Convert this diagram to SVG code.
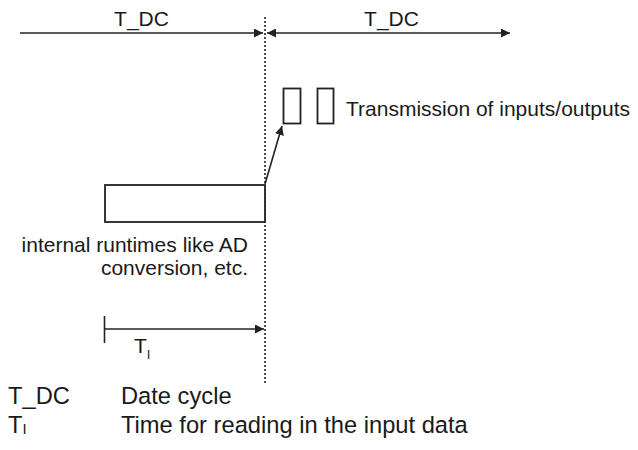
<svg xmlns="http://www.w3.org/2000/svg" width="638" height="450" viewBox="0 0 638 450">
<defs>
<style>
.t{font-family:"Liberation Sans",Arial,sans-serif;font-size:21px;fill:#1a1a1a}
.lg{font-size:23.7px}
.ln{stroke:#222;stroke-width:1.6;fill:none}
.box{stroke:#222;stroke-width:1.8;fill:#fff}
</style>
<marker id="ah" viewBox="0 0 10 10" refX="10" refY="5" markerWidth="9" markerHeight="9" markerUnits="userSpaceOnUse" orient="auto-start-reverse">
<path d="M0,0 L10,5 L0,10 z" fill="#222"/>
</marker>
</defs>
<rect width="638" height="450" fill="#fff"/>
<g id="cycle-line">
<line x1="265" y1="17" x2="265" y2="385" stroke="#222" stroke-width="1.6" stroke-dasharray="2,2"/>
</g>
<g id="connectors">
<line class="ln" x1="20" y1="33" x2="263" y2="33" marker-end="url(#ah)"/>
<line class="ln" x1="267" y1="33" x2="510" y2="33" marker-start="url(#ah)" marker-end="url(#ah)"/>
<line class="ln" x1="265" y1="184" x2="282" y2="126" marker-end="url(#ah)"/>
<line class="ln" x1="105" y1="329" x2="264" y2="329" marker-end="url(#ah)"/>
<line class="ln" x1="104.5" y1="316" x2="104.5" y2="343"/>
</g>
<g id="labels-top">
<text class="t" x="141.5" y="26" text-anchor="middle" font-size="20.8">T_DC</text>
<text class="t" x="391.5" y="26" text-anchor="middle" font-size="20.8">T_DC</text>
</g>
<g id="transmission">
<rect class="box" x="283.5" y="88.5" width="17" height="35"/>
<rect class="box" x="317.5" y="88.5" width="16" height="35"/>
<text class="t" x="346" y="116" font-size="21.2">Transmission of inputs/outputs</text>
</g>
<g id="runtime">
<rect class="box" x="105" y="185" width="160" height="37"/>
<text class="t" x="248" y="252" text-anchor="end" font-size="22.3">internal runtimes like AD</text>
<text class="t" x="248" y="275" text-anchor="end" font-size="22.3">conversion, etc.</text>
</g>
<g id="ti-label">
<text class="t" x="134" y="353">T<tspan font-size="13" dy="6">I</tspan></text>
</g>
<g id="legend">
<text class="t lg" x="8" y="404">T_DC</text>
<text class="t lg" x="121" y="404">Date cycle</text>
<text class="t lg" x="8" y="433">T<tspan font-size="15" dy="1">I</tspan></text>
<text class="t lg" x="121" y="433">Time for reading in the input data</text>
</g>
</svg>
